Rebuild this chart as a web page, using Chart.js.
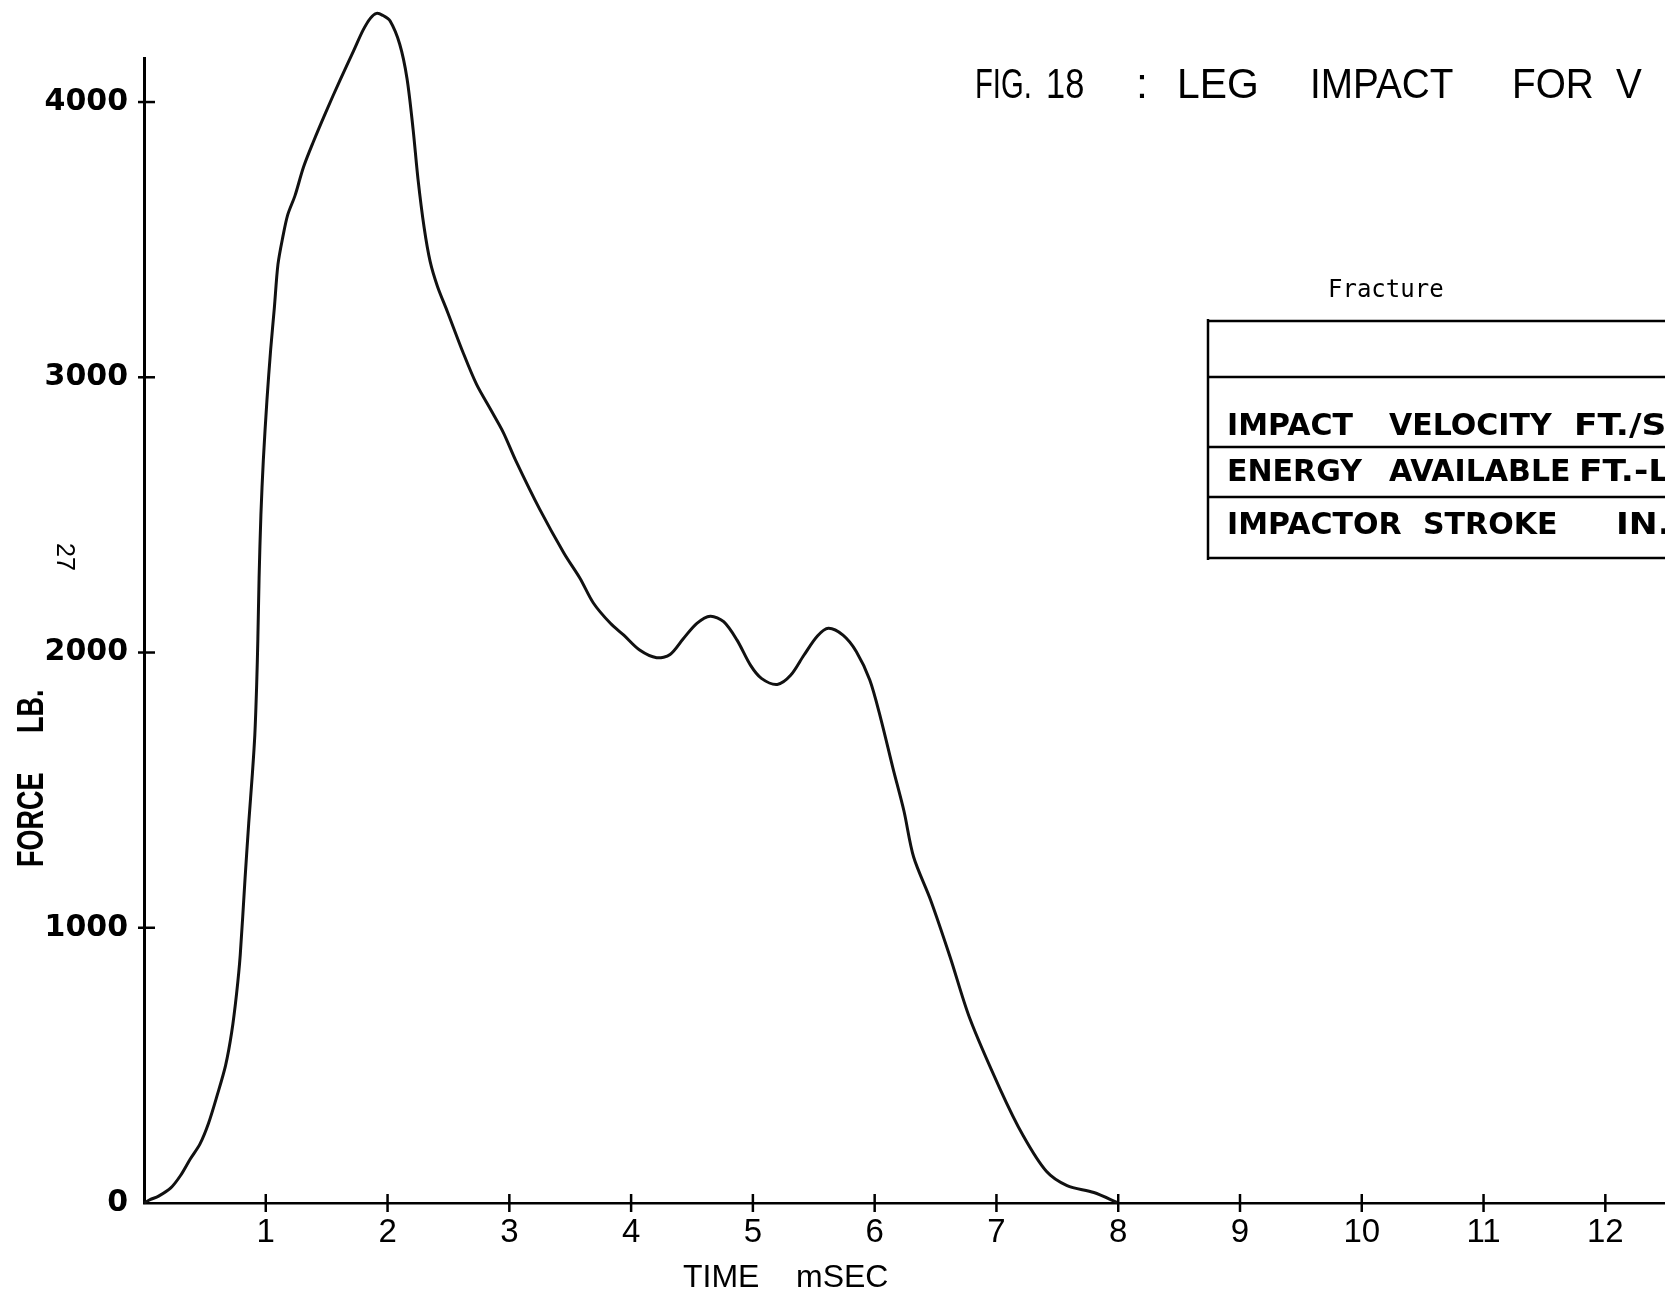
<!DOCTYPE html>
<html>
<head>
<meta charset="utf-8">
<title>Fig. 18 : Leg impact</title>
<script src="https://cdn.jsdelivr.net/npm/chart.js@4.4.0/dist/chart.umd.min.js"></script>
<style>
  html, body { margin: 0; padding: 0; background: #fff; }
  #wrap { width: 1665px; height: 1295px; position: relative; }
</style>
</head>
<body>
<div id="wrap"><canvas id="chart-leg-impact"></canvas></div>
<script>
// force / time trace
const timeMs = [
  0, 0.05, 0.12, 0.22, 0.30, 0.38, 0.46, 0.53, 0.60, 0.67,
  0.72, 0.76, 0.79, 0.83, 0.86, 0.89, 0.91, 0.925, 0.935, 0.945,
  0.96, 0.98, 1.01, 1.04, 1.07, 1.10, 1.14, 1.18, 1.24, 1.31,
  1.39, 1.49, 1.61, 1.72, 1.80, 1.86, 1.91, 1.96, 2.02, 2.10,
  2.16, 2.21, 2.25, 2.30, 2.35, 2.41, 2.49, 2.62, 2.73, 2.85,
  2.95, 3.05, 3.25, 3.45, 3.58, 3.69, 3.83, 3.94, 4.07, 4.21,
  4.32, 4.43, 4.54, 4.65, 4.76, 4.87, 4.98, 5.07, 5.20, 5.31,
  5.42, 5.53, 5.62, 5.74, 5.85, 5.96, 6.05, 6.15, 6.24, 6.32,
  6.46, 6.62, 6.78, 7.03, 7.22, 7.41, 7.58, 7.80, 8.00,
];
const forceLb = [
  0, 12, 25, 55, 100, 160, 215, 290, 390, 500,
  620, 760, 900, 1180, 1380, 1560, 1700, 1880, 2050, 2270,
  2500, 2700, 2920, 3100, 3250, 3410, 3510, 3590, 3660, 3764,
  3855, 3960, 4080, 4185, 4262, 4305, 4322, 4315, 4295, 4210,
  4085, 3900, 3720, 3545, 3420, 3330, 3240, 3090, 2975, 2880,
  2800, 2700, 2520, 2360, 2270, 2180, 2106, 2063, 2009, 1981,
  1993, 2051, 2106, 2132, 2112, 2045, 1954, 1906, 1884, 1917,
  1991, 2060, 2088, 2063, 2003, 1900, 1760, 1580, 1425, 1257,
  1100, 893, 672, 414, 244, 115, 63, 38, 0,
];

const xTicks = [1, 2, 3, 4, 5, 6, 7, 8, 9, 10, 11, 12];
const yTicks = [0, 1000, 2000, 3000, 4000];

const titleWords = ["FIG.", "18", ":", "LEG", "IMPACT", "FOR", "V"];
const tableRows = [
  ["IMPACT", "VELOCITY", "FT./SEC"],
  ["ENERGY", "AVAILABLE", "FT.-LB."],
  ["IMPACTOR", "STROKE", "IN."],
];

// text drawn with an optional horizontal squeeze (the lettering is condensed)
function putText(ctx, text, x, y, font, sx) {
  ctx.save();
  ctx.translate(x, y);
  ctx.scale(sx || 1, 1);
  ctx.font = font;
  ctx.fillText(text, 0, 0);
  ctx.restore();
}

function seg(ctx, x1, y1, x2, y2) {
  ctx.beginPath();
  ctx.moveTo(x1, y1);
  ctx.lineTo(x2, y2);
  ctx.stroke();
}

const paperText = {
  id: "paperText",
  afterDraw(chart) {
    const ctx = chart.ctx;
    const xs = chart.scales.x;
    const ys = chart.scales.y;
    ctx.save();
    ctx.fillStyle = "#000";
    ctx.strokeStyle = "#000";
    ctx.textAlign = "left";
    ctx.textBaseline = "alphabetic";

    // tick marks crossing the axes
    ctx.lineWidth = 2.5;
    xTicks.forEach((v) => {
      const px = xs.getPixelForValue(v);
      seg(ctx, px, ys.bottom - 9, px, ys.bottom + 9);
    });
    yTicks.slice(1).forEach((v) => {
      const py = ys.getPixelForValue(v);
      seg(ctx, xs.left - 6, py, xs.left + 11, py);
    });

    // title, runs off the right edge like the scan
    const titleX = [975, 1046, 1136, 1177, 1310, 1512, 1616];
    const titleSq = [0.68, 0.8, 1, 0.95, 0.9, 0.9, 0.9];
    titleWords.forEach((w, i) => {
      putText(ctx, w, titleX[i], 98, "43px 'Liberation Sans', Arial, sans-serif", titleSq[i]);
    });

    // table
    putText(ctx, "Fracture", 1328, 297, "24px 'DejaVu Sans Mono', monospace");
    ctx.lineWidth = 2.5;
    [321, 377, 447, 497, 558].forEach((ly) => seg(ctx, 1208, ly, 1665, ly));
    seg(ctx, 1208, 319, 1208, 560);
    const rowY = [435, 481, 534];
    const colX = [[1227, 1389, 1574], [1227, 1389, 1579], [1227, 1423, 1616]];
    tableRows.forEach((row, r) => {
      row.forEach((w, c) => {
        putText(ctx, w, colX[r][c], rowY[r], "bold 30px 'DejaVu Sans', sans-serif", c === 2 ? 1.15 : 1);
      });
    });

    // axis titles
    ctx.save();
    ctx.translate(43, 867);
    ctx.rotate(-Math.PI / 2);
    putText(ctx, "FORCE", 0, 0, "bold 36px 'Liberation Sans', Arial, sans-serif", 0.75);
    putText(ctx, "LB.", 134, 0, "bold 36px 'Liberation Sans', Arial, sans-serif", 0.75);
    ctx.restore();

    putText(ctx, "TIME", 683, 1287, "32px 'Liberation Sans', Arial, sans-serif");
    putText(ctx, "mSEC", 796, 1287, "32px 'Liberation Sans', Arial, sans-serif");

    // page number in the margin
    ctx.save();
    ctx.translate(64, 557);
    ctx.rotate(Math.PI / 2);
    ctx.textAlign = "center";
    ctx.textBaseline = "middle";
    ctx.font = "25px 'Liberation Sans', Arial, sans-serif";
    ctx.fillText("27", 0, 0);
    ctx.restore();

    ctx.restore();
  },
};

new Chart(document.getElementById("chart-leg-impact"), {
  type: "line",
  data: {
    datasets: [
      {
        label: "Force",
        data: timeMs.map((t, i) => ({ x: t, y: forceLb[i] })),
        borderColor: "#111",
        borderWidth: 3,
        pointRadius: 0,
        tension: 0.3,
        fill: false,
        clip: false,
      },
    ],
  },
  options: {
    responsive: true,
    maintainAspectRatio: false,
    animation: false,
    layout: { padding: { top: 58, left: 0, right: 0, bottom: 0 } },
    plugins: {
      legend: { display: false },
      tooltip: { enabled: false },
    },
    scales: {
      x: {
        type: "linear",
        min: 0,
        max: 12.49,
        afterBuildTicks: (s) => {
          s.ticks = xTicks.map((v) => ({ value: v }));
        },
        afterFit: (s) => {
          s.height = 92;
        },
        grid: { display: false, drawTicks: false },
        border: { display: true, color: "#000", width: 2.5 },
        ticks: {
          color: "#000",
          padding: 10,
          autoSkip: false,
          maxRotation: 0,
          font: { family: "'Liberation Sans', Arial, sans-serif", size: 33 },
          callback: (v) => String(v),
        },
      },
      y: {
        type: "linear",
        min: 0,
        max: 4160,
        afterBuildTicks: (s) => {
          s.ticks = yTicks.map((v) => ({ value: v }));
        },
        afterFit: (s) => {
          s.width = 144;
        },
        grid: { display: false, drawTicks: false },
        border: { display: true, color: "#000", width: 3 },
        ticks: {
          color: "#000",
          padding: 16,
          font: { family: "'DejaVu Sans', sans-serif", size: 30, weight: "bold" },
          callback: (v) => String(v),
        },
      },
    },
  },
  plugins: [paperText],
});
</script>
</body>
</html>
